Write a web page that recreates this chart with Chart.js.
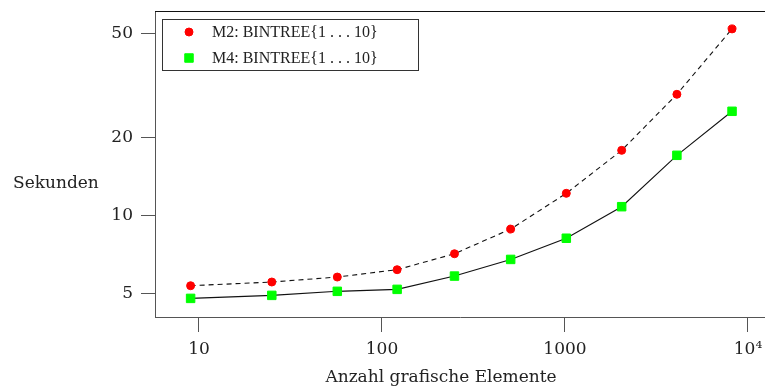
<!DOCTYPE html>
<html>
<head>
<meta charset="utf-8">
<script src="https://cdn.jsdelivr.net/npm/chart.js@4/dist/chart.umd.min.js"></script>
<style>
    html, body { margin: 0; padding: 0; background: #fff; }
    #wrap { width: 765px; height: 390px; position: relative; }
</style>
</head>
<body>
<div id="wrap"><canvas id="timing_chart"></canvas></div>
<script>
// data
const elements = [9, 25, 57, 121, 249, 505, 1017, 2041, 4089, 8185]
const m2_seconds = [5.37, 5.55, 5.80, 6.19, 7.13, 8.87, 12.18, 17.83, 29.3, 52.3]
const m4_seconds = [4.80, 4.93, 5.11, 5.20, 5.85, 6.78, 8.18, 10.82, 17.06, 25.2]
const x_ticks = [10, 100, 1000, 10000]
const y_ticks = [5, 10, 20, 50]
const series_labels = ["M2: BINTREE{1 . . . 10}", "M4: BINTREE{1 . . . 10}"]

const FONT = "'DejaVu Serif', serif"
const LEGEND_FONT = "'Liberation Serif', serif"

function toPoints(xs, ys) {
    return xs.map((x, i) => ({x: x, y: ys[i]}))
}

// no extra label padding, so the plot box sits where the reference has it
function noPadding(scale) {
    scale.paddingTop = 0
    scale.paddingBottom = 0
    scale.paddingLeft = 0
    scale.paddingRight = 0
}

// legend box + axis titles + top frame line
const decorPlugin = {
    id: 'decor',
    afterDraw(chart) {
        const ctx = chart.ctx
        const area = chart.chartArea
        ctx.save()
        ctx.strokeStyle = '#111'
        ctx.lineWidth = 1
        ctx.beginPath()
        ctx.moveTo(area.left, area.top + 0.5)
        ctx.lineTo(area.right, area.top + 0.5)
        ctx.stroke()

        // legend
        ctx.fillStyle = '#fff'
        ctx.fillRect(162, 19, 256, 51)
        ctx.strokeStyle = '#333'
        ctx.strokeRect(162.5, 19.5, 256, 51)
        const rows = [32, 58]
        chart.data.datasets.forEach((ds, i) => {
            ctx.fillStyle = ds.pointBackgroundColor
            ctx.strokeStyle = ds.pointBorderColor
            Chart.helpers.drawPoint(ctx, {
                pointStyle: ds.pointStyle,
                radius: ds.pointRadius,
                rotation: 0,
                borderWidth: ds.pointBorderWidth
            }, 189, rows[i])
            ctx.fillStyle = '#222'
            ctx.font = "16px " + LEGEND_FONT
            ctx.textAlign = 'left'
            ctx.textBaseline = 'middle'
            ctx.fillText(ds.label, 212, rows[i] + 1)
        })

        // axis titles
        ctx.fillStyle = '#222'
        ctx.font = "17px " + FONT
        ctx.textBaseline = 'middle'
        ctx.textAlign = 'left'
        ctx.fillText("Sekunden", 13, 184)
        ctx.textAlign = 'center'
        ctx.fillText("Anzahl grafische Elemente", 441, 378)
        ctx.restore()
    }
}

const ctx_timing = document.getElementById("timing_chart").getContext("2d")
const timing_chart = new Chart(ctx_timing, {
    type: "line",
    data: {
        datasets: [{
            label: series_labels[0],
            data: toPoints(elements, m2_seconds),
            borderColor: "#111",
            borderWidth: 1.1,
            borderDash: [5, 4],
            pointStyle: 'circle',
            pointRadius: 4,
            pointBorderWidth: 1,
            pointBackgroundColor: "#ff0000",
            pointBorderColor: "#ff0000",
            tension: 0
        }, {
            label: series_labels[1],
            data: toPoints(elements, m4_seconds),
            borderColor: "#111",
            borderWidth: 1.1,
            pointStyle: 'rect',
            pointRadius: 6,
            pointBorderWidth: 1,
            pointBackgroundColor: "#00ff00",
            pointBorderColor: "#00ff00",
            tension: 0
        }]
    },
    options: {
        responsive: true,
        maintainAspectRatio: false,
        animation: false,
        layout: {autoPadding: false, padding: {top: 11, right: 0, left: 0, bottom: 0}},
        plugins: {legend: {display: false}, tooltip: {enabled: false}},
        scales: {
            x: {
                type: 'logarithmic',
                min: 5.75,
                max: 12390,
                afterBuildTicks(scale) {
                    scale.ticks = x_ticks.map(v => ({value: v}))
                },
                afterFit(scale) {
                    scale.height = 73
                    noPadding(scale)
                },
                grid: {drawOnChartArea: false, drawTicks: true, tickLength: 15, color: '#555'},
                border: {display: true, color: '#555', width: 1},
                ticks: {
                    color: '#222',
                    padding: 7,
                    maxRotation: 0,
                    autoSkip: false,
                    font: {family: FONT, size: 17},
                    callback(value) {
                        return value === 10000 ? '10\u2074' : String(value)
                    }
                }
            },
            y: {
                type: 'logarithmic',
                min: 4.07,
                max: 61.3,
                afterBuildTicks(scale) {
                    scale.ticks = y_ticks.map(v => ({value: v}))
                },
                afterFit(scale) {
                    scale.width = 155
                    noPadding(scale)
                },
                grid: {drawOnChartArea: false, drawTicks: true, tickLength: 14, color: '#555'},
                border: {display: true, color: '#555', width: 1},
                ticks: {
                    color: '#222',
                    padding: 8,
                    autoSkip: false,
                    font: {family: FONT, size: 17},
                    callback(value) {
                        return String(value)
                    }
                }
            }
        }
    },
    plugins: [decorPlugin]
})
</script>
</body>
</html>
